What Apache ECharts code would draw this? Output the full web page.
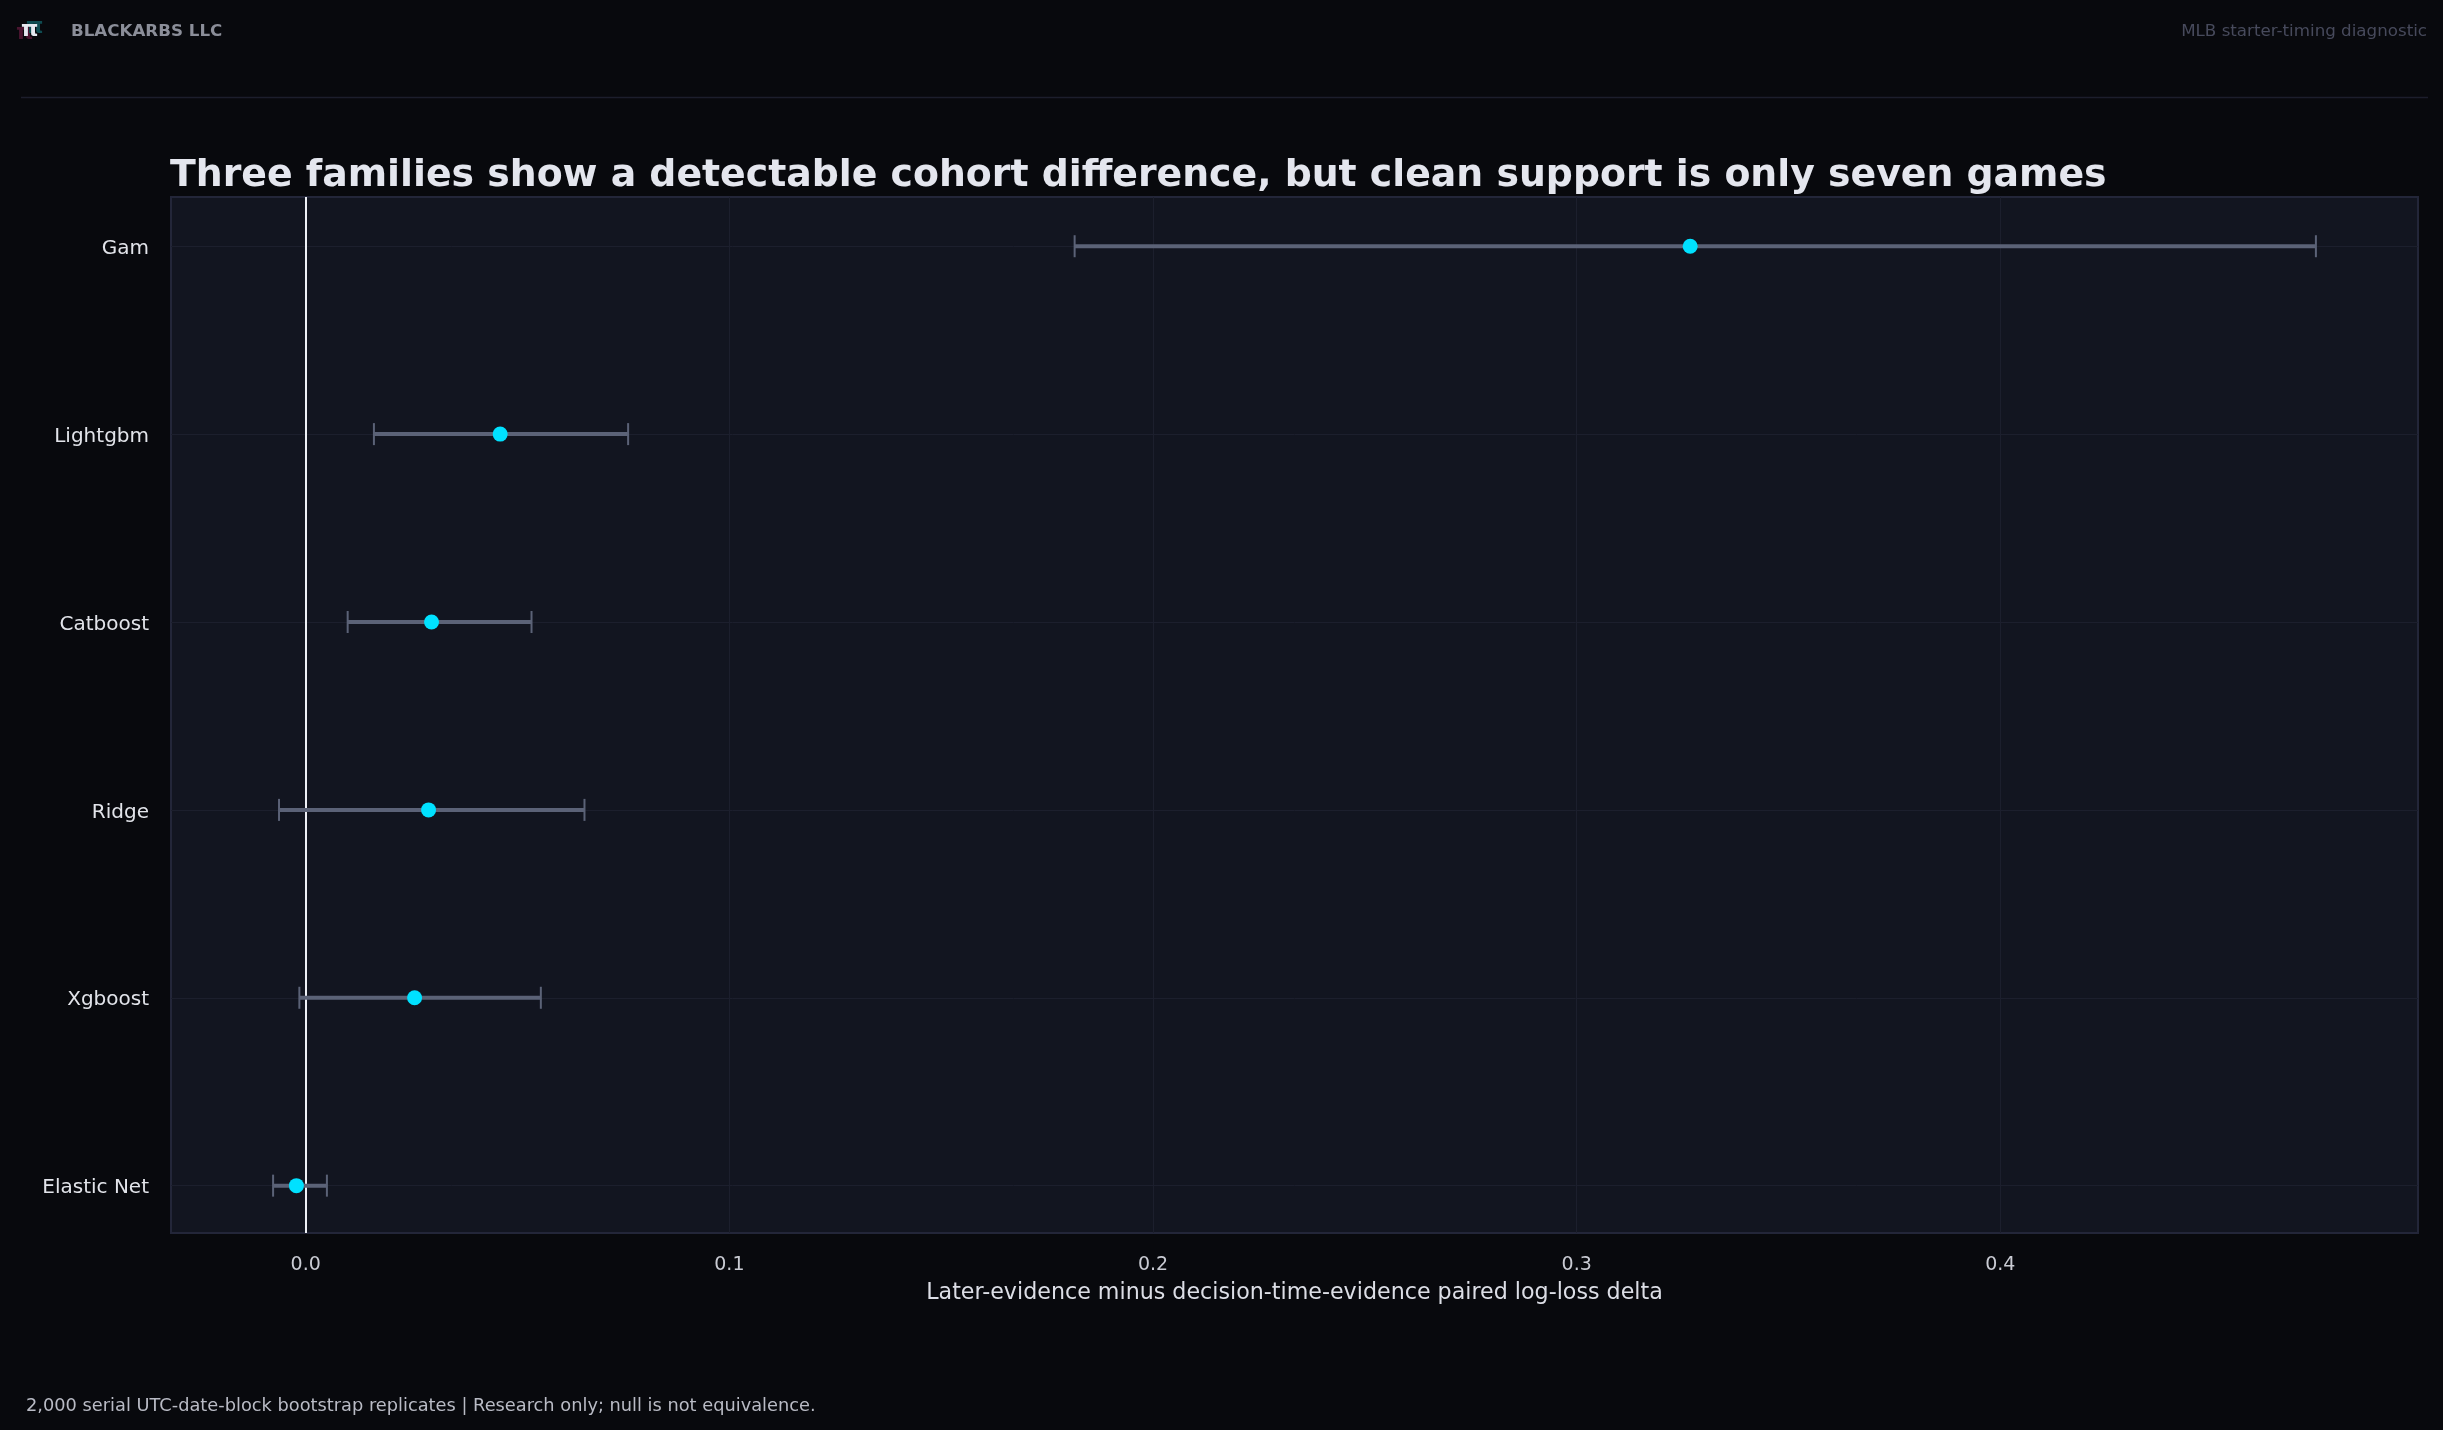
<!DOCTYPE html>
<html>
<head>
<meta charset="utf-8">
<script src="https://cdn.jsdelivr.net/npm/echarts@6/dist/echarts.min.js"></script>
<style>
html,body{margin:0;padding:0;background:#08090d;}
#chart{width:2443px;height:1430px;}
</style>
</head>
<body>
<div id="chart"></div>
<script>
// ---- data ----
const categories = ['Gam', 'Lightgbm', 'Catboost', 'Ridge', 'Xgboost', 'Elastic Net'];
const estimates  = [0.3268, 0.0459, 0.0297, 0.0290, 0.0257, -0.0022];
const lowerCI    = [0.1815, 0.0161, 0.0099, -0.0063, -0.0015, -0.0077];
const upperCI    = [0.4745, 0.0761, 0.0533, 0.0658, 0.0555, 0.0050];
const xTicks     = [0.0, 0.1, 0.2, 0.3, 0.4];
const yPositions = [0, 1, 2, 3, 4, 5];

const FONT = 'DejaVu Sans';
const chart = echarts.init(document.getElementById('chart'), null, {renderer: 'canvas'});

const barData = categories.map((c, i) => [lowerCI[i], upperCI[i], i]);
const pointData = categories.map((c, i) => [estimates[i], i]);

const option = {
  backgroundColor: '#08090d',
  animation: false,
  grid: {
    left: 171, top: 197, width: 2247, height: 1036,
    show: true, backgroundColor: '#121520', borderColor: '#232639', borderWidth: 2,
    containLabel: false
  },
  xAxis: {
    type: 'value', min: -0.0318, max: 0.4986,
    axisLine: {show: false},
    axisTick: {show: false, customValues: xTicks},
    axisLabel: {customValues: xTicks, color: '#c9cbd3', fontSize: 19, fontFamily: FONT, margin: 23,
      formatter: v => v.toFixed(1)},
    splitLine: {show: true, lineStyle: {color: '#1c1f2d', width: 1}},
    name: 'Later-evidence minus decision-time-evidence paired log-loss delta',
    nameLocation: 'middle', nameGap: 49,
    nameTextStyle: {color: '#dcdee6', fontSize: 22.2, fontFamily: FONT}
  },
  yAxis: {
    type: 'value', inverse: true, min: -0.262, max: 5.252,
    axisLine: {show: false},
    axisTick: {show: false, customValues: yPositions},
    axisLabel: {customValues: yPositions, color: '#e2e4ea', fontSize: 20, fontFamily: FONT, margin: 22,
      formatter: v => '{n|' + (categories[Math.round(v)] || '') + '}',
      rich: {n: {color: '#e2e4ea', fontSize: 20, fontFamily: FONT, padding: [5, 0, 0, 0]}}},
    splitLine: {show: true, lineStyle: {color: '#1c1f2d', width: 1}}
  },
  series: [
    {
      type: 'custom',
      data: barData,
      z: 3,
      renderItem: function (params, api) {
        const lo = api.coord([api.value(0), api.value(2)]);
        const hi = api.coord([api.value(1), api.value(2)]);
        const capH = 11;
        const col = '#5b6277';
        return {
          type: 'group',
          children: [
            {type: 'line', shape: {x1: lo[0], y1: lo[1], x2: hi[0], y2: hi[1]}, style: {stroke: col, lineWidth: 4}},
            {type: 'line', shape: {x1: lo[0], y1: lo[1] - capH, x2: lo[0], y2: lo[1] + capH}, style: {stroke: col, lineWidth: 2}},
            {type: 'line', shape: {x1: hi[0], y1: hi[1] - capH, x2: hi[0], y2: hi[1] + capH}, style: {stroke: col, lineWidth: 2}}
          ]
        };
      },
      markLine: {
        silent: true, symbol: 'none', z: 2,
        label: {show: false},
        lineStyle: {color: '#eef0f6', width: 2, type: 'solid'},
        data: [{xAxis: 0}]
      }
    },
    {
      type: 'scatter',
      data: pointData,
      symbol: 'circle', symbolSize: 15, z: 5,
      itemStyle: {color: '#00e1ff', opacity: 1}
    }
  ],
  graphic: [
    // logo
    {type: 'text', left: 16, top: 22, style: {text: 'π', font: 'bold 22px "DejaVu Sans"', fill: '#4a1530'}},
    {type: 'text', left: 26, top: 16, style: {text: 'π', font: 'bold 22px "DejaVu Sans"', fill: '#0f4c52'}},
    {type: 'text', left: 21, top: 19, style: {text: 'π', font: 'bold 22px "DejaVu Sans"', fill: '#e6e8f0'}},
    {type: 'text', left: 71, top: 23, style: {text: 'BLACKARBS LLC', font: 'bold 16.7px "DejaVu Sans"', fill: '#8b8e99'}},
    {type: 'text', right: 16, top: 23, style: {text: 'MLB starter-timing diagnostic', font: '16.7px "DejaVu Sans"', fill: '#474a5c'}},
    {type: 'line', shape: {x1: 21, y1: 97.5, x2: 2428, y2: 97.5}, style: {stroke: '#1c1e2c', lineWidth: 1.5}},
    {type: 'text', left: 170, top: 157, style: {text: 'Three families show a detectable cohort difference, but clean support is only seven games', font: 'bold 37.8px "DejaVu Sans"', fill: '#e4e6ee'}},
    {type: 'text', left: 26, top: 1397, style: {text: '2,000 serial UTC-date-block bootstrap replicates | Research only; null is not equivalence.', font: '17.8px "DejaVu Sans"', fill: '#b9bbc5'}}
  ]
};
chart.setOption(option);
</script>
</body>
</html>
